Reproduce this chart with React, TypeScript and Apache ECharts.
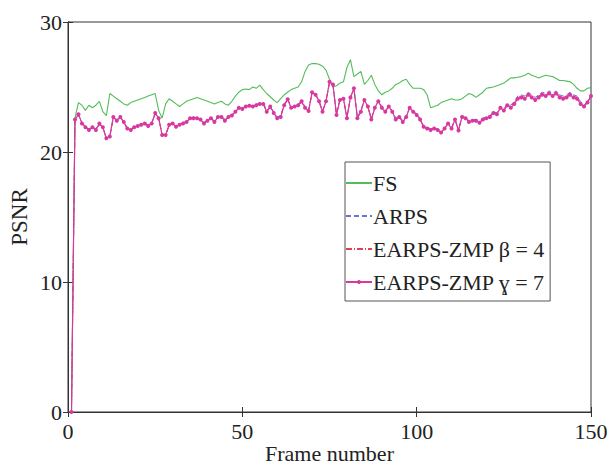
import React, { useEffect, useRef } from "react";
import * as echarts from "echarts";

// PSNR per frame (frame 1..150)
const fsValues = [
  0, 22.6, 23.8, 23.6, 23.2, 23.6, 23.4, 23.6, 23.9, 23.1,
  22.8, 24.5, 24.3, 24.1, 23.9, 23.7, 23.6, 23.8, 23.9, 24.0,
  24.1, 24.2, 24.3, 24.4, 24.5, 23.2, 22.6, 23.7, 24.1, 23.9,
  23.7, 23.5, 23.7, 23.9, 24.0, 24.1, 24.2, 24.1, 24.0, 23.9,
  23.8, 23.7, 23.8, 23.9, 23.7, 23.6, 23.9, 24.3, 24.6, 24.8,
  24.85, 24.8, 25.0, 24.9, 25.15, 24.8, 24.5, 24.25, 24.0, 23.8,
  24.1, 24.4, 24.6, 24.8, 24.9, 25.0, 25.4, 26.2, 26.7, 26.8,
  26.8, 26.75, 26.6, 26.3, 25.6, 25.0, 25.1, 25.3, 25.4, 26.5,
  27.1, 25.8, 26.0, 26.2, 25.2, 25.5, 25.9, 25.2, 24.7, 24.4,
  24.6, 24.7, 24.9, 25.2, 25.3, 25.5, 25.6, 25.2, 24.9, 24.9,
  24.9, 24.8, 24.4, 23.4, 23.5, 23.6, 23.8, 23.9, 24.0, 24.1,
  24.0, 24.0, 24.1, 24.3, 24.5, 24.4, 24.2, 24.4, 24.6, 24.9,
  24.95, 25.0, 25.1, 25.2, 25.3, 25.5, 25.7, 25.7, 25.75, 25.8,
  25.9, 26.05, 25.9, 25.8, 25.7, 25.8, 25.9, 25.85, 25.8, 25.65,
  25.5, 25.5, 25.45, 25.4, 25.2, 24.9, 24.7, 24.7, 24.9, 24.95,
];

const arpsValues = [
  0, 22.6, 22.8, 22.3, 21.9, 21.8, 21.9, 21.8, 22.2, 21.9,
  21.1, 21.2, 22.6, 22.5, 22.7, 22.3, 21.9, 21.7, 22.0, 22.0,
  22.1, 22.2, 22.1, 22.2, 23.0, 22.6, 21.4, 21.3, 22.1, 22.2,
  22.0, 22.1, 22.3, 22.3, 22.6, 22.7, 22.6, 22.5, 22.3, 22.4,
  22.6, 22.4, 22.7, 22.8, 22.5, 22.7, 22.9, 23.1, 23.4, 23.4,
  23.5, 23.6, 23.5, 23.7, 23.7, 23.8, 23.2, 23.5, 23.1, 22.7,
  22.8, 23.7, 24.1, 23.5, 23.5, 23.7, 23.9, 23.5, 23.2, 24.6,
  24.5, 23.9, 23.2, 23.9, 25.3, 25.2, 22.9, 24.1, 24.1, 22.7,
  24.2, 24.9, 22.7, 23.2, 24.1, 23.5, 22.6, 23.4, 24.0, 23.5,
  23.2, 23.5, 23.2, 22.6, 22.8, 22.4, 22.8, 23.4, 23.2, 22.9,
  22.6, 22.0, 21.9, 21.8, 21.8, 21.8, 21.6, 21.8, 22.3, 21.9,
  22.5, 21.7, 22.8, 22.7, 22.4, 22.5, 22.5, 22.4, 22.6, 22.7,
  22.8, 23.1, 23.0, 23.5, 23.3, 23.7, 23.6, 23.9, 24.3, 24.4,
  24.3, 24.6, 24.4, 24.2, 24.4, 24.6, 24.5, 24.7, 24.5, 24.7,
  24.4, 24.3, 24.4, 24.6, 24.4, 24.3, 23.9, 23.6, 23.9, 24.3,
];

const zmpBetaValues = [
  0, 22.5, 22.9, 22.2, 22.0, 21.7, 21.9, 21.7, 22.1, 21.9,
  21.0, 21.2, 22.7, 22.4, 22.6, 22.3, 21.8, 21.7, 21.9, 22.0,
  22.1, 22.1, 22.0, 22.2, 22.9, 22.6, 21.3, 21.3, 22.0, 22.2,
  21.9, 22.1, 22.2, 22.3, 22.5, 22.6, 22.6, 22.5, 22.2, 22.4,
  22.6, 22.3, 22.7, 22.7, 22.4, 22.7, 22.8, 23.1, 23.3, 23.3,
  23.5, 23.5, 23.5, 23.6, 23.7, 23.7, 23.1, 23.4, 23.0, 22.6,
  22.7, 23.6, 24.0, 23.4, 23.5, 23.6, 23.8, 23.4, 23.2, 24.5,
  24.4, 23.9, 23.1, 23.9, 25.4, 25.1, 22.9, 24.0, 24.1, 22.6,
  24.2, 24.8, 22.6, 23.1, 24.0, 23.5, 22.5, 23.4, 23.9, 23.4,
  23.1, 23.5, 23.1, 22.5, 22.7, 22.3, 22.7, 23.4, 23.1, 22.9,
  22.5, 21.9, 21.8, 21.7, 21.8, 21.7, 21.5, 21.8, 22.2, 21.8,
  22.5, 21.7, 22.7, 22.6, 22.3, 22.4, 22.4, 22.3, 22.5, 22.6,
  22.7, 23.0, 22.9, 23.4, 23.2, 23.6, 23.5, 23.8, 24.2, 24.3,
  24.2, 24.5, 24.3, 24.1, 24.3, 24.5, 24.4, 24.6, 24.4, 24.6,
  24.3, 24.2, 24.3, 24.5, 24.3, 24.2, 23.8, 23.5, 23.9, 24.3,
];

const zmpGammaValues = [
  0, 22.5, 22.9, 22.2, 21.9, 21.7, 21.9, 21.7, 22.2, 21.9,
  21.05, 21.2, 22.7, 22.4, 22.7, 22.3, 21.8, 21.7, 21.9, 22.0,
  22.1, 22.2, 22.0, 22.2, 23.0, 22.6, 21.3, 21.3, 22.1, 22.2,
  21.95, 22.1, 22.2, 22.3, 22.6, 22.6, 22.6, 22.5, 22.2, 22.4,
  22.6, 22.3, 22.7, 22.7, 22.4, 22.7, 22.8, 23.1, 23.4, 23.3,
  23.5, 23.55, 23.5, 23.6, 23.7, 23.7, 23.1, 23.5, 23.0, 22.6,
  22.7, 23.6, 24.05, 23.4, 23.5, 23.6, 23.9, 23.4, 23.15, 24.6,
  24.4, 23.9, 23.1, 23.9, 25.4, 25.2, 22.85, 24.0, 24.1, 22.6,
  24.2, 24.9, 22.6, 23.1, 24.0, 23.5, 22.5, 23.4, 23.9, 23.4,
  23.1, 23.5, 23.1, 22.5, 22.7, 22.3, 22.7, 23.4, 23.1, 22.85,
  22.5, 21.95, 21.8, 21.7, 21.8, 21.7, 21.5, 21.8, 22.2, 21.8,
  22.5, 21.65, 22.7, 22.6, 22.3, 22.4, 22.4, 22.25, 22.5, 22.6,
  22.7, 23.0, 22.9, 23.4, 23.2, 23.6, 23.4, 23.7, 24.1, 24.2,
  24.1, 24.4, 24.2, 24.0, 24.2, 24.4, 24.3, 24.5, 24.3, 24.5,
  24.2, 24.1, 24.2, 24.4, 24.2, 24.1, 23.7, 23.5, 23.8, 24.3,
];

const seriesNames = ["FS", "ARPS", "EARPS-ZMP β = 4", "EARPS-ZMP ɣ = 7"];

const FONT = "Liberation Serif";

export default function App() {
  const ref = useRef<HTMLDivElement>(null);

  useEffect(() => {
    if (!ref.current) return;
    const chart = echarts.init(ref.current, undefined, { renderer: "svg" });
    const toPairs = (arr: number[]) => arr.map((v, i) => [i + 1, v]);

    const axisLineStyle = { color: "#333", width: 1 };
    const tickStyle = { show: true, inside: true, length: 5, lineStyle: { color: "#333" } };

    chart.setOption({
      animation: false,
      backgroundColor: "#ffffff",
      grid: {
        left: 68,
        right: 22,
        top: 22,
        bottom: 55,
        outerBoundsMode: "none",
        containLabel: false,
        show: true,
        borderColor: "#333",
        borderWidth: 1,
        backgroundColor: "transparent",
      },
      legend: {
        orient: "vertical",
        left: 345,
        top: 162,
        itemWidth: 26,
        itemHeight: 5,
        itemGap: 11,
        padding: [10, 5, 8, 0],
        borderColor: "#555",
        borderWidth: 1,
        backgroundColor: "#fff",
        textStyle: { fontFamily: FONT, fontSize: 22, color: "#222", padding: [0, 0, 0, -4] },
        data: [
          { name: seriesNames[0], itemStyle: { opacity: 0 } },
          { name: seriesNames[1], itemStyle: { opacity: 0 } },
          { name: seriesNames[2], itemStyle: { opacity: 0 } },
          { name: seriesNames[3] },
        ],
      },
      xAxis: [
        {
          type: "value",
          min: 0,
          max: 150,
          interval: 50,
          name: "Frame number",
          nameLocation: "middle",
          nameGap: 31,
          nameMoveOverlap: false,
          nameTextStyle: { fontFamily: FONT, fontSize: 22, lineHeight: 20, color: "#222" },
          axisLine: { show: true, onZero: false, lineStyle: axisLineStyle },
          axisTick: tickStyle,
          splitLine: { show: false },
          axisLabel: { fontFamily: FONT, fontSize: 22, color: "#222", margin: 8 },
        },
        {
          type: "value",
          position: "top",
          min: 0,
          max: 150,
          interval: 50,
          axisLine: { show: true, lineStyle: axisLineStyle },
          axisTick: tickStyle,
          axisLabel: { show: false },
          splitLine: { show: false },
        },
      ],
      yAxis: [
        {
          type: "value",
          min: 0,
          max: 30,
          interval: 10,
          name: "PSNR",
          nameLocation: "middle",
          nameGap: 37,
          nameMoveOverlap: false,
          nameTextStyle: { fontFamily: FONT, fontSize: 23, color: "#222" },
          axisLine: { show: true, onZero: false, lineStyle: axisLineStyle },
          axisTick: tickStyle,
          splitLine: { show: false },
          axisLabel: { fontFamily: FONT, fontSize: 22, color: "#222", margin: 6 },
        },
        {
          type: "value",
          position: "right",
          min: 0,
          max: 30,
          interval: 10,
          axisLine: { show: true, lineStyle: axisLineStyle },
          axisTick: tickStyle,
          axisLabel: { show: false },
          splitLine: { show: false },
        },
      ],
      series: [
        {
          name: seriesNames[0],
          type: "line",
          data: toPairs(fsValues),
          symbol: "none",
          lineStyle: { color: "#52bd5a", width: 1.1 },
          itemStyle: { color: "#52bd5a" },
        },
        {
          name: seriesNames[1],
          type: "line",
          data: toPairs(arpsValues),
          symbol: "none",
          lineStyle: { color: "#7070d0", width: 1, type: [5, 3] },
          itemStyle: { color: "#7070d0" },
        },
        {
          name: seriesNames[2],
          type: "line",
          data: toPairs(zmpBetaValues),
          symbol: "none",
          lineStyle: { color: "#e0405a", width: 1, type: [6, 2, 1, 2] },
          itemStyle: { color: "#e0405a" },
        },
        {
          name: seriesNames[3],
          type: "line",
          data: toPairs(zmpGammaValues),
          symbol: "circle",
          symbolSize: 4,
          showSymbol: true,
          lineStyle: { color: "#d8389f", width: 1.2 },
          itemStyle: { color: "#d8389f" },
        },
      ],
    });

    return () => chart.dispose();
  }, []);

  return <div ref={ref} style={{ width: 613, height: 467, position: "absolute", left: 0, top: 0 }} />;
}
